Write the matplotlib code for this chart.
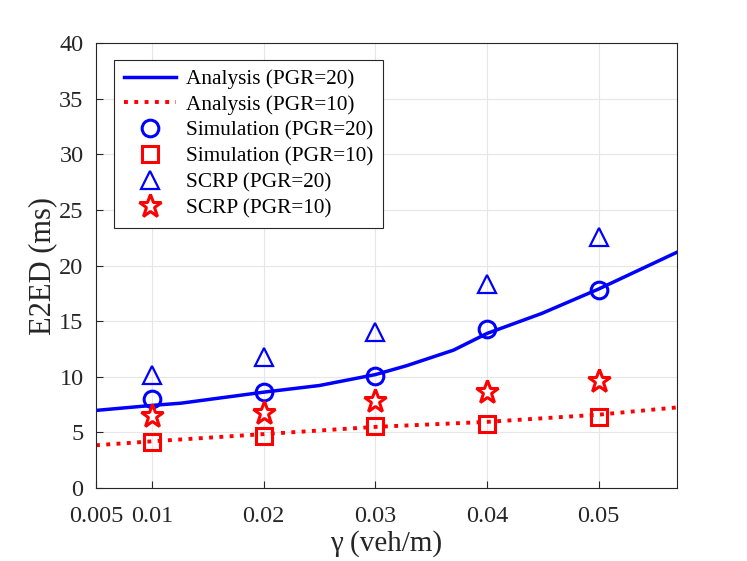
import numpy as np
import matplotlib
matplotlib.use("Agg")
import matplotlib.pyplot as plt

# ---- data ----
gamma_pts = [0.01, 0.02, 0.03, 0.04, 0.05]

# analysis curves (sampled along the drawn lines)
ana_x20 = [0.005, 0.01, 0.0126, 0.02, 0.025, 0.03, 0.0328, 0.037, 0.04, 0.0449, 0.05, 0.057]
ana_y20 = [6.98, 7.43, 7.63, 8.62, 9.22, 10.2, 11.0, 12.4, 13.9, 15.7, 17.9, 21.2]
ana_x10 = [0.005, 0.01, 0.02, 0.03, 0.04, 0.05, 0.057]
ana_y10 = [3.85, 4.2, 4.85, 5.5, 5.95, 6.6, 7.25]

sim_20 = [8.0, 8.62, 10.1, 14.3, 17.8]
sim_10 = [4.13, 4.67, 5.57, 5.78, 6.38]
scrp_20 = [10.2, 11.8, 14.0, 18.3, 22.6]
scrp_10 = [6.47, 6.77, 7.87, 8.62, 9.61]

xticks = [0.005, 0.01, 0.02, 0.03, 0.04, 0.05]
xtick_labels = ["0.005", "0.01", "0.02", "0.03", "0.04", "0.05"]
yticks = [0, 5, 10, 15, 20, 25, 30, 35, 40]

plt.rcParams["font.family"] = ["Liberation Serif", "DejaVu Serif"]

fig = plt.figure(figsize=(7.47, 5.61), dpi=100)
ax = fig.add_axes([0.1285, 0.130, 0.7778, 0.7932])

ax.plot(ana_x20, ana_y20, "-", color="blue", lw=2.5, label="Analysis (PGR=20)")
ax.plot(ana_x10, ana_y10, ":", color="red", lw=2.8, label="Analysis (PGR=10)")
ax.plot(gamma_pts, sim_20, "o", ms=12, mfc="none", mec="blue", mew=2.2, ls="none",
        label="Simulation (PGR=20)")
ax.plot(gamma_pts, sim_10, "s", ms=11, mfc="none", mec="red", mew=2.2, ls="none",
        label="Simulation (PGR=10)")
ax.plot(gamma_pts, scrp_20, "^", ms=13, mfc="none", mec="blue", mew=1.6, ls="none",
        label="SCRP (PGR=20)")
# heavy-edged star, leaves a small white core like the reference
ax.plot(gamma_pts, scrp_10, "*", ms=17, mfc="white", mec="red", mew=2.2, ls="none",
        label="SCRP (PGR=10)")

ax.set_xlim(0.005, 0.057)
ax.set_ylim(0, 40)
ax.set_xticks(xticks)
ax.set_xticklabels(xtick_labels)
ax.set_yticks(yticks)
ax.tick_params(labelsize=17.5, direction="in", length=5, color="#262626", labelcolor="#262626")
ax.tick_params(axis="x", pad=13)
ax.tick_params(axis="y", pad=9)
ax.grid(True, color="#e6e6e6", lw=0.8)
ax.set_axisbelow(True)
for s in ax.spines.values():
    s.set_color("#262626")
    s.set_linewidth(0.8)

ax.set_xlabel("γ (veh/m)", fontsize=21, color="#262626", labelpad=2)
ax.set_ylabel("E2ED (ms)", fontsize=22, color="#262626", labelpad=1)

leg = ax.legend(loc="upper left", bbox_to_anchor=(0.031, 0.963), fontsize=15.3,
                frameon=True, fancybox=False, edgecolor="#262626", framealpha=1,
                handlelength=2.45, labelspacing=0.28, borderpad=0.45, handletextpad=0.5,
                borderaxespad=0)
leg.get_frame().set_linewidth(0.8)

fig.savefig("out.png", dpi=100)
